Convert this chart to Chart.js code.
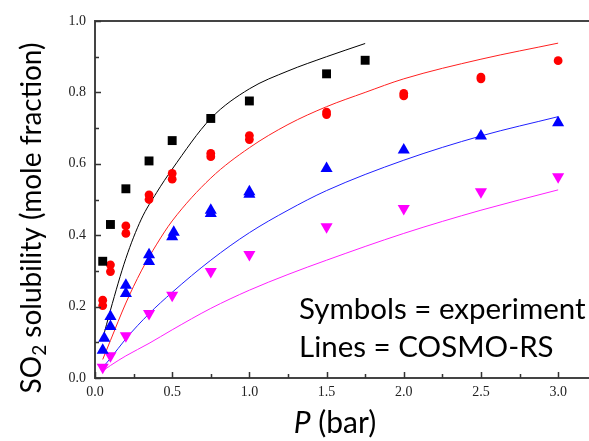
<!DOCTYPE html>
<html>
<head>
<meta charset="utf-8">
<script src="https://cdn.jsdelivr.net/npm/chart.js@4.4.1/dist/chart.umd.min.js"></script>
<style>
  html, body { margin: 0; padding: 0; background: #fff; }
  #wrap { width: 589px; height: 441px; position: relative; }
</style>
</head>
<body>
<div id="wrap"><canvas id="chart"></canvas></div>
<script>
// experiment (symbols)
const blackP = [0.05, 0.1, 0.2, 0.35, 0.5, 0.75, 1.0, 1.5, 1.75];
const blackExp = [0.327, 0.43, 0.53, 0.608, 0.665, 0.727, 0.776, 0.852, 0.89];

const redP = [0.05, 0.05, 0.1, 0.1, 0.2, 0.2, 0.35, 0.35, 0.5, 0.5, 0.75, 0.75, 1.0, 1.0, 1.5, 1.5, 2.0, 2.0, 2.5, 2.5, 3.0];
const redExp = [0.218, 0.203, 0.317, 0.298, 0.426, 0.405, 0.513, 0.5, 0.573, 0.557, 0.629, 0.62, 0.679, 0.668, 0.745, 0.738, 0.797, 0.79, 0.843, 0.838, 0.889];

const blueP = [0.05, 0.06, 0.1, 0.1, 0.2, 0.2, 0.35, 0.35, 0.5, 0.51, 0.75, 0.75, 1.0, 1.0, 1.5, 2.0, 2.5, 3.0];
const blueExp = [0.078, 0.111, 0.144, 0.172, 0.237, 0.26, 0.326, 0.345, 0.396, 0.408, 0.461, 0.47, 0.515, 0.522, 0.587, 0.639, 0.678, 0.715];

const magentaP = [0.05, 0.1, 0.2, 0.35, 0.5, 0.75, 1.0, 1.5, 2.0, 2.5, 3.0];
const magentaExp = [0.03, 0.062, 0.118, 0.181, 0.232, 0.298, 0.346, 0.424, 0.475, 0.522, 0.564];

// COSMO-RS (lines)
const blackCalcP = [0.05, 0.1, 0.2, 0.3, 0.4, 0.5, 0.75, 1.0, 1.25, 1.5, 1.75];
const blackCalc = [0.11, 0.19, 0.335, 0.445, 0.52, 0.585, 0.727, 0.81, 0.86, 0.9, 0.937];

const redCalcP = [0.05, 0.1, 0.2, 0.3, 0.4, 0.5, 0.75, 1.0, 1.25, 1.5, 1.75, 2.0, 2.5, 3.0];
const redCalc = [0.052, 0.105, 0.21, 0.3, 0.375, 0.44, 0.56, 0.645, 0.71, 0.76, 0.8, 0.838, 0.893, 0.938];

const blueCalcP = [0.05, 0.1, 0.2, 0.35, 0.5, 0.75, 1.0, 1.25, 1.5, 2.0, 2.5, 3.0];
const blueCalc = [0.03, 0.055, 0.11, 0.18, 0.24, 0.33, 0.407, 0.47, 0.525, 0.61, 0.678, 0.732];

const magentaCalcP = [0.05, 0.1, 0.2, 0.35, 0.5, 0.75, 1.0, 1.25, 1.5, 2.0, 2.5, 3.0];
const magentaCalc = [0.02, 0.035, 0.062, 0.097, 0.135, 0.195, 0.246, 0.29, 0.33, 0.405, 0.47, 0.527];

// axes
const xMin = 0, xMax = 3.2, xStep = 0.5;
const xTickValues = [0, 0.5, 1.0, 1.5, 2.0, 2.5, 3.0];
const yMin = 0, yMax = 1.0, yStep = 0.2;

const annotationLines = ['Symbols = experiment', 'Lines = COSMO-RS'];

function pts(xs, ys) {
    return xs.map((x, i) => ({ x: x, y: ys[i] }));
}

function marker(label, xs, ys, color, style, radius, rotation) {
    return {
        label: label,
        data: pts(xs, ys),
        showLine: false,
        pointStyle: style,
        pointRadius: radius,
        pointRotation: rotation || 0,
        pointBackgroundColor: color,
        pointBorderColor: color,
        pointBorderWidth: 0,
        order: 0
    };
}

function curve(label, xs, ys, color) {
    return {
        label: label,
        data: pts(xs, ys),
        showLine: true,
        borderColor: color,
        borderWidth: 1,
        pointRadius: 0,
        cubicInterpolationMode: 'monotone',
        order: 1
    };
}

const sansFont = 'Lato, "Open Sans", sans-serif';

const framePlugin = {
    id: 'frame',
    afterDraw(chart) {
        const ctx = chart.ctx;
        const area = chart.chartArea;
        const xs = chart.scales.x;
        const ys = chart.scales.y;

        ctx.save();
        // top frame line
        ctx.strokeStyle = '#444';
        ctx.lineWidth = 2;
        ctx.beginPath();
        ctx.moveTo(area.left, area.top);
        ctx.lineTo(area.right, area.top);
        ctx.stroke();

        // inward ticks, major and minor
        ctx.strokeStyle = '#333';
        ctx.lineWidth = 1.5;
        ctx.beginPath();
        xs.ticks.forEach(t => {
            const px = Math.round(xs.getPixelForValue(t.value)) + 0.5;
            ctx.moveTo(px, area.bottom);
            ctx.lineTo(px, area.bottom - 6);
            const mid = t.value + xStep / 2;
            if (mid <= xMax) {
                const mx = Math.round(xs.getPixelForValue(mid)) + 0.5;
                ctx.moveTo(mx, area.bottom);
                ctx.lineTo(mx, area.bottom - 4);
            }
        });
        ys.ticks.forEach(t => {
            const py = Math.round(ys.getPixelForValue(t.value)) + 0.5;
            ctx.moveTo(area.left, py);
            ctx.lineTo(area.left + 6, py);
            const mid = t.value + yStep / 2;
            if (mid < yMax) {
                const my = Math.round(ys.getPixelForValue(mid)) + 0.5;
                ctx.moveTo(area.left, my);
                ctx.lineTo(area.left + 4, my);
            }
        });
        ctx.stroke();

        ctx.fillStyle = '#000';
        ctx.textBaseline = 'alphabetic';

        // y title with subscript
        const big = '28px ' + sansFont;
        const small = '19px ' + sansFont;
        ctx.save();
        ctx.translate(41, 218);
        ctx.rotate(-Math.PI / 2);
        ctx.font = big;
        const wSO = ctx.measureText('SO').width;
        const rest = ' solubility (mole fraction)';
        const wRest = ctx.measureText(rest).width;
        ctx.font = small;
        const w2 = ctx.measureText('2').width;
        const x0 = -(wSO + w2 + wRest) / 2;
        ctx.textAlign = 'left';
        ctx.font = big;
        ctx.fillText('SO', x0, 0);
        ctx.font = small;
        ctx.fillText('2', x0 + wSO, 5);
        ctx.font = big;
        ctx.fillText(rest, x0 + wSO + w2, 0);
        ctx.restore();

        // x title, italic P
        ctx.textAlign = 'left';
        ctx.font = 'italic 30px ' + sansFont;
        const wP = ctx.measureText('P').width;
        ctx.font = '30px ' + sansFont;
        const wBar = ctx.measureText(' (bar)').width;
        const cx = 335;
        ctx.font = 'italic 30px ' + sansFont;
        ctx.fillText('P', cx - (wP + wBar) / 2, 433);
        ctx.font = '30px ' + sansFont;
        ctx.fillText(' (bar)', cx - (wP + wBar) / 2 + wP, 433);

        // annotation
        ctx.font = '29.5px ' + sansFont;
        ctx.fillText(annotationLines[0], 299, 319);
        ctx.fillText(annotationLines[1], 299, 357);
        ctx.restore();
    }
};

new Chart(document.getElementById('chart'), {
    type: 'scatter',
    data: {
        datasets: [
            curve('black calc', blackCalcP, blackCalc, '#000000'),
            curve('red calc', redCalcP, redCalc, '#ff2020'),
            curve('blue calc', blueCalcP, blueCalc, '#2020ff'),
            curve('magenta calc', magentaCalcP, magentaCalc, '#ff20ff'),
            marker('black exp', blackP, blackExp, '#000000', 'rect', 6.3),
            marker('red exp', redP, redExp, '#ff0000', 'circle', 4.4),
            marker('blue exp', blueP, blueExp, '#0000ff', 'triangle', 7),
            marker('magenta exp', magentaP, magentaExp, '#ff00ff', 'triangle', 7, 180)
        ]
    },
    options: {
        responsive: true,
        maintainAspectRatio: false,
        animation: false,
        layout: { padding: { top: 21, right: 0, left: 0, bottom: 0 }, autoPadding: false },
        plugins: {
            legend: { display: false },
            tooltip: { enabled: false }
        },
        scales: {
            x: {
                type: 'linear',
                min: xMin,
                max: xMax,
                grid: { display: false, drawTicks: false },
                border: { display: true, color: '#444', width: 2 },
                ticks: {
                    padding: 6,
                    color: '#222',
                    font: { family: '"Liberation Serif", "Times New Roman", serif', size: 14 },
                    callback: v => v.toFixed(1)
                },
                afterBuildTicks: scale => {
                    scale.ticks = xTickValues.map(v => ({ value: v }));
                },
                afterFit: scale => { scale.height = 63; }
            },
            y: {
                type: 'linear',
                min: yMin,
                max: yMax,
                grid: { display: false, drawTicks: false },
                border: { display: true, color: '#444', width: 2 },
                ticks: {
                    stepSize: yStep,
                    padding: 9,
                    color: '#222',
                    font: { family: '"Liberation Serif", "Times New Roman", serif', size: 14 },
                    callback: v => v.toFixed(1)
                },
                afterFit: scale => { scale.width = 95; }
            }
        }
    },
    plugins: [framePlugin]
});
</script>
</body>
</html>
